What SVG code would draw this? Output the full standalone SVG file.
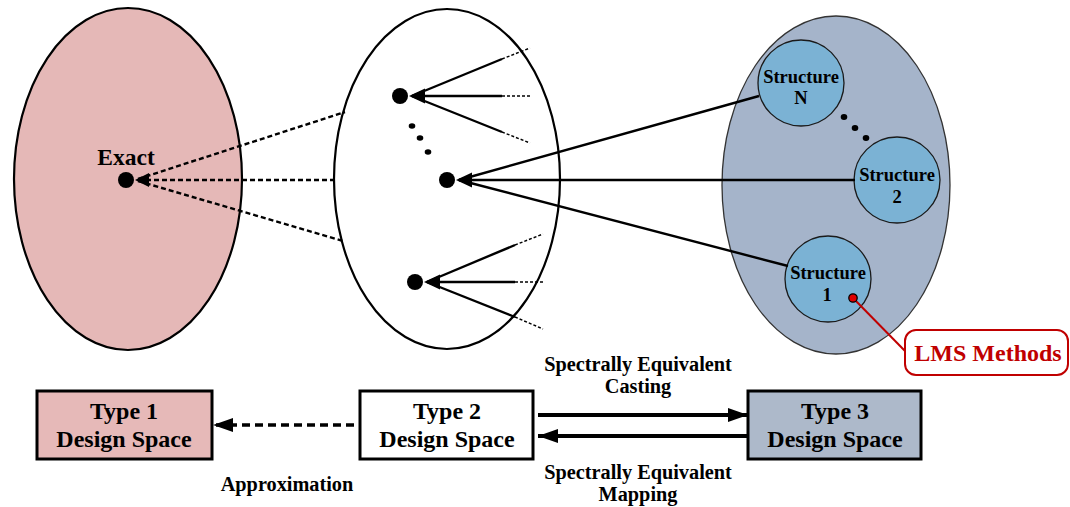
<svg xmlns="http://www.w3.org/2000/svg" width="1070" height="507" viewBox="0 0 1070 507">
  <defs>
    <style>
      .lbl { font-family: "Liberation Serif", "Times New Roman", serif; font-weight: bold; text-anchor: middle; fill: #000; }
      .space { stroke: #000; stroke-width: 2.2; }
      .solid { stroke: #000; stroke-width: 2.4; fill: none; }
      .fine { stroke: #000; stroke-width: 1.5; stroke-dasharray: 3 2; fill: none; }
      .dash { stroke: #000; stroke-width: 2.4; stroke-dasharray: 5 3; fill: none; }
      .struct { fill: #7bb2d4; stroke: #1a1a1a; stroke-width: 1.3; }
      .box { stroke: #000; stroke-width: 3; }
    </style>
    <marker id="headBig" viewBox="0 0 20 14" refX="20" refY="7" markerWidth="20" markerHeight="14" markerUnits="userSpaceOnUse" orient="auto">
      <path d="M0,0 L20,7 L0,14 Z" fill="#000"/>
    </marker>
  </defs>

  <!-- Type 1: exact design space -->
  <g id="space1">
    <ellipse cx="128" cy="179" rx="114" ry="171" fill="#e5b8b7" class="space"/>
    <text class="lbl" x="126" y="165" font-size="23.5">Exact</text>
    <circle cx="126" cy="180" r="8" fill="#000"/>
  </g>

  <!-- Type 2: intermediate design space -->
  <g id="space2">
    <ellipse cx="447" cy="179" rx="113" ry="170" fill="#fff" class="space"/>
    <circle cx="400" cy="96" r="8" fill="#000"/>
    <circle cx="447" cy="180" r="8" fill="#000"/>
    <circle cx="415" cy="282" r="8" fill="#000"/>
    <ellipse cx="412" cy="126" rx="3.3" ry="2.8" fill="#000"/>
    <ellipse cx="420" cy="138" rx="3.3" ry="2.8" fill="#000"/>
    <ellipse cx="428" cy="152" rx="3.3" ry="2.8" fill="#000"/>
  </g>

  <!-- Type 3: structure space -->
  <g id="space3">
    <ellipse cx="836" cy="185" rx="114" ry="169" fill="#a5b4ca" stroke="#333" stroke-width="1.3"/>
    <ellipse cx="844" cy="117" rx="3.3" ry="3" fill="#000"/>
    <ellipse cx="855" cy="128" rx="3.3" ry="3" fill="#000"/>
    <ellipse cx="866" cy="138" rx="3.3" ry="3" fill="#000"/>
  </g>

  <g id="structureN">
    <circle cx="801" cy="83" r="43" class="struct"/>
    <text class="lbl" x="801" y="83" font-size="18.5">Structure</text>
    <text class="lbl" x="801" y="104" font-size="18.5">N</text>
  </g>
  <g id="structure2">
    <circle cx="897" cy="180" r="43" class="struct"/>
    <text class="lbl" x="897" y="181" font-size="18.5">Structure</text>
    <text class="lbl" x="897" y="203" font-size="18.5">2</text>
  </g>
  <g id="structure1">
    <circle cx="828" cy="279" r="43" class="struct"/>
    <text class="lbl" x="828" y="279" font-size="18.5">Structure</text>
    <text class="lbl" x="827" y="301" font-size="18.5">1</text>
  </g>

  <!-- Callout -->
  <g id="lms">
    <line x1="853" y1="298" x2="905" y2="351" stroke="#c00000" stroke-width="2"/>
    <circle cx="853" cy="298" r="4.2" fill="#e00000" stroke="#000" stroke-width="1.3"/>
    <rect x="905" y="330" width="163" height="45" rx="11" fill="#fff" stroke="#c00000" stroke-width="2"/>
    <text x="988" y="361" font-size="24" class="lbl" style="fill:#c00000">LMS Methods</text>
  </g>

  <!-- Connectors -->
  <g id="connectors">
    <!-- approximation rays into the exact point -->
    <line x1="138" y1="179" x2="345" y2="112" class="dash"/>
    <line x1="138" y1="180" x2="334" y2="180" class="dash"/>
    <line x1="138" y1="181" x2="343" y2="241" class="dash"/>
    <path d="M135,180 L149,173 L149,187 Z" fill="#000"/>

    <!-- rays into the upper point -->
    <line x1="412" y1="96" x2="502" y2="59" class="solid"/>
    <line x1="412" y1="96" x2="502" y2="96" class="solid"/>
    <line x1="412" y1="96" x2="502" y2="132" class="solid"/>
    <line x1="502" y1="59" x2="530" y2="48" class="fine"/>
    <line x1="502" y1="96" x2="530" y2="96" class="fine"/>
    <line x1="502" y1="132" x2="530" y2="143" class="fine"/>
    <path d="M409,96 L425,88.5 L425,103.5 Z" fill="#000"/>

    <!-- rays from the structures into the middle point -->
    <line x1="459" y1="180" x2="759" y2="96" class="solid"/>
    <line x1="459" y1="180" x2="855" y2="180" class="solid"/>
    <line x1="459" y1="180" x2="788" y2="266" class="solid"/>
    <path d="M456,180 L472,172.5 L472,187.5 Z" fill="#000"/>

    <!-- rays into the lower point -->
    <line x1="427" y1="282" x2="515" y2="245" class="solid"/>
    <line x1="427" y1="282" x2="515" y2="282" class="solid"/>
    <line x1="427" y1="282" x2="515" y2="317" class="solid"/>
    <line x1="515" y1="245" x2="543" y2="234" class="fine"/>
    <line x1="515" y1="282" x2="543" y2="282" class="fine"/>
    <line x1="515" y1="317" x2="543" y2="329" class="fine"/>
    <path d="M424,282 L440,274.5 L440,289.5 Z" fill="#000"/>

    <!-- design space relations -->
    <line x1="354" y1="425" x2="213" y2="425" stroke="#000" stroke-width="3.5" stroke-dasharray="8 5" marker-end="url(#headBig)"/>
    <line x1="538" y1="415" x2="748" y2="415" stroke="#000" stroke-width="4" marker-end="url(#headBig)"/>
    <line x1="748" y1="436" x2="538" y2="436" stroke="#000" stroke-width="4" marker-end="url(#headBig)"/>
  </g>

  <!-- Design space boxes -->
  <g id="type1">
    <rect x="37" y="391" width="175" height="68" fill="#e6b9b8" class="box"/>
    <text class="lbl" x="124" y="419" font-size="24">Type 1</text>
    <text class="lbl" x="124" y="447" font-size="24">Design Space</text>
  </g>
  <g id="type2">
    <rect x="360" y="391" width="173" height="68" fill="#fff" class="box"/>
    <text class="lbl" x="447" y="419" font-size="24">Type 2</text>
    <text class="lbl" x="447" y="447" font-size="24">Design Space</text>
  </g>
  <g id="type3">
    <rect x="748" y="391" width="173" height="68" fill="#adb9ca" class="box"/>
    <text class="lbl" x="835" y="419" font-size="24">Type 3</text>
    <text class="lbl" x="835" y="447" font-size="24">Design Space</text>
  </g>

  <!-- Relation labels -->
  <g id="labels">
    <text class="lbl" x="638" y="371" font-size="20.3">Spectrally Equivalent</text>
    <text class="lbl" x="638" y="393" font-size="20.3">Casting</text>
    <text class="lbl" x="638" y="479" font-size="20.3">Spectrally Equivalent</text>
    <text class="lbl" x="638" y="501" font-size="20.3">Mapping</text>
    <text class="lbl" x="287" y="491" font-size="20.3">Approximation</text>
  </g>
</svg>
